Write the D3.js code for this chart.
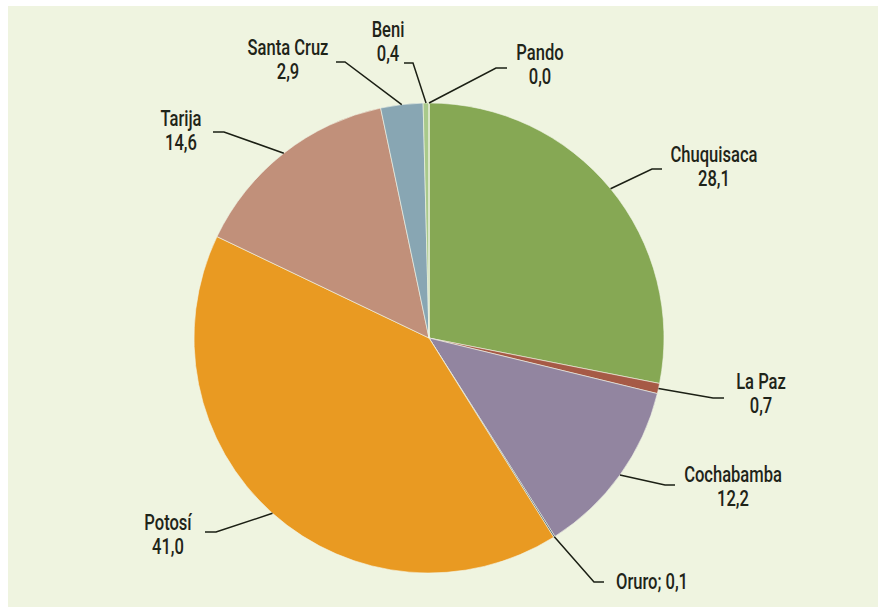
<!DOCTYPE html>
<html>
<head>
<meta charset="utf-8">
<script src="https://cdn.jsdelivr.net/npm/d3@7"></script>
<style>
  html, body { margin: 0; padding: 0; background: #ffffff; }
  svg { display: block; }
  .lbl { font-family: Roboto, "Liberation Sans", sans-serif; font-weight: 500; font-size: 22px; fill: #1f2419; }
</style>
</head>
<body>
<svg id="chart" width="878" height="607"></svg>
<script>
// ---- data ----
const regions = ["Chuquisaca", "La Paz", "Cochabamba", "Oruro", "Potosí", "Tarija", "Santa Cruz", "Beni", "Pando"];
const shares  = [28.1, 0.7, 12.2, 0.1, 41.0, 14.6, 2.9, 0.4, 0.0];
const colors  = ["#86a854", "#a65a46", "#9285a0", "#3f566a", "#e99a22", "#c1907a", "#88a6b3", "#a9c98b", "#b9d59b"];

// ---- layout (label placement, not data) ----
// tx: text centre x, ty: first baseline, elbow: bend point of leader, endX: end of horizontal segment
const labelLayout = [
  { tx: 714, ty: 162, elbow: [652, 169], endX: 662, inline: false },
  { tx: 761, ty: 389, elbow: [713, 398], endX: 724, inline: false },
  { tx: 733, ty: 482, elbow: [665, 485], endX: 675, inline: false },
  { tx: 652, ty: 589, elbow: [594, 582], endX: 604, inline: true  },
  { tx: 168, ty: 530, elbow: [216, 532], endX: 205, inline: false },
  { tx: 181, ty: 126, elbow: [224, 132], endX: 213, inline: false },
  { tx: 288, ty: 55,  elbow: [345, 62],  endX: 336, inline: false },
  { tx: 388, ty: 37,  elbow: [413, 63],  endX: 404, inline: false },
  { tx: 540, ty: 60,  elbow: [496, 68],  endX: 507, inline: false }
];

const W = 878, H = 607;
const cx = 429, cy = 338, R = 235;
const fmt = v => d3.format(".1f")(v).replace(".", ",");

const svg = d3.select("#chart");
svg.append("rect").attr("x", 8).attr("y", 6).attr("width", W - 8).attr("height", H - 6).attr("fill", "#eff4e0");

const pie = d3.pie().sort(null).value(d => d).startAngle(0).endAngle(2 * Math.PI);
const arcs = pie(shares);
const arc = d3.arc().innerRadius(0).outerRadius(R);

const g = svg.append("g").attr("transform", `translate(${cx},${cy})`);
g.selectAll("path.slice").data(arcs).enter().append("path")
  .attr("class", "slice")
  .attr("d", arc)
  .attr("fill", (d, i) => colors[i])
  .attr("stroke", "#f4f6ea")
  .attr("stroke-width", 0.6);

// leader lines
const lines = svg.append("g");
arcs.forEach((d, i) => {
  const L = labelLayout[i];
  const a = (d.startAngle + d.endAngle) / 2;
  const px = cx + R * Math.sin(a), py = cy - R * Math.cos(a);
  lines.append("path")
    .attr("d", `M${px},${py}L${L.elbow[0]},${L.elbow[1]}L${L.endX},${L.elbow[1]}`)
    .attr("fill", "none").attr("stroke", "#1b1f14").attr("stroke-width", 1.5);
});

// labels (each line its own text element)
const labelG = svg.append("g");
const items = [];
arcs.forEach((d, i) => {
  const L = labelG.append("g");
  const lay = labelLayout[i];
  const rows = lay.inline ? [`${regions[i]}; ${fmt(shares[i])}`] : [regions[i], fmt(shares[i])];
  rows.forEach((r, k) => {
    const t = L.append("g");
    t.append("text").attr("class", "lbl").attr("text-anchor", "middle").attr("x", 0).attr("y", 0).text(r);
    items.push({ g: t, x: lay.tx, y: lay.ty + k * 23.5 });
  });
});
// condensed look: squeeze horizontally so "Chuquisaca" spans ~87px
const refW = items[0].g.select("text").node().getComputedTextLength();
const sx = Math.min(1, 87 / refW);
items.forEach(o => o.g.attr("transform", `translate(${o.x},${o.y}) scale(${sx},1)`));
</script>
</body>
</html>
